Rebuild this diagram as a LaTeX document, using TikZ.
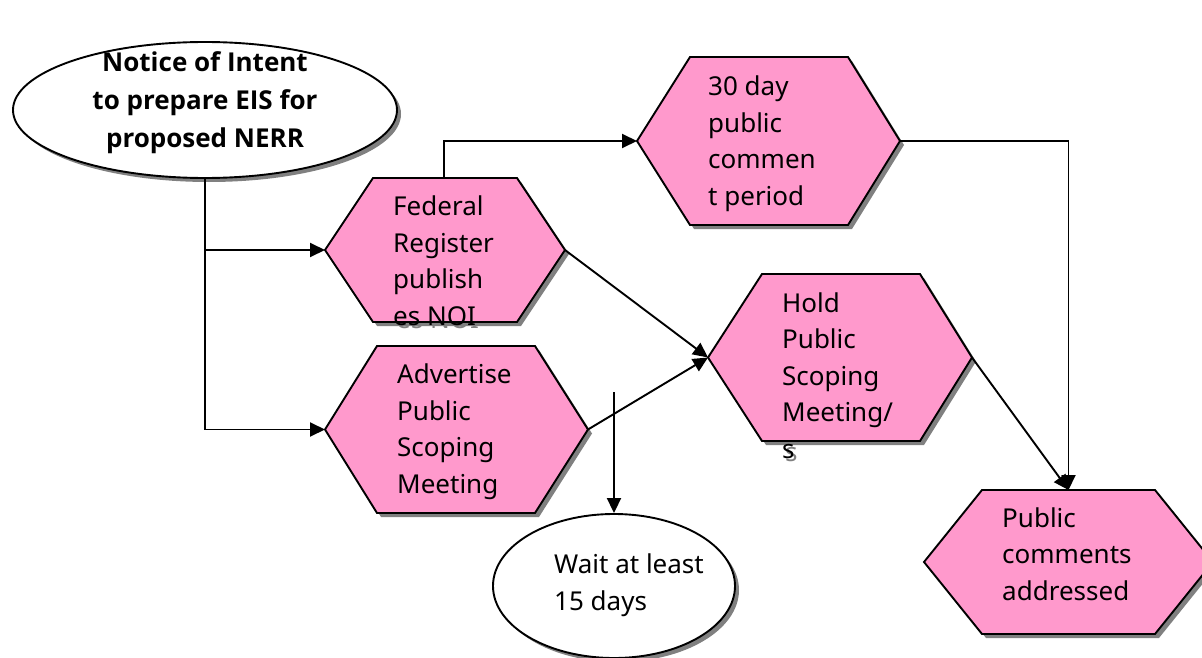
\documentclass[tikz,border=0pt]{standalone}
\usepackage{fontspec}
\setmainfont{Noto Sans}
\newfontfamily\noibf{Open Sans}
\usetikzlibrary{arrows.meta,shapes.geometric}
\definecolor{hexpink}{RGB}{255,153,204}
\definecolor{shadowgray}{RGB}{128,128,128}
\tikzset{
  txt/.style={font=\fontsize{26}{36.5}\selectfont, align=left, inner sep=0pt},
  conn/.style={line width=1.9pt, draw=black},
  arr/.style={conn, -{Triangle[length=15pt,width=14pt]}},
  hexfill/.style={fill=hexpink, draw=black, line width=1.9pt, line join=miter},
  shad/.style={fill=shadowgray},
  oval/.style={ellipse, draw=black, fill=white, line width=1.9pt, inner sep=0pt},
}
% #1 name, #2 x west, #3 x top-left, #4 x top-right, #5 x east, #6 y top, #7 y bottom, #8 text
% (#1-t) = west end of the baseline of the LAST text line
\newcommand{\hexbox}[8]{%
  \coordinate (#1-w) at (#2,{(#6+#7)/2});
  \coordinate (#1-e) at (#5,{(#6+#7)/2});
  \coordinate (#1-n) at ({(#3+#4)/2},#6);
  \begin{scope}[shift={(4,4)}]
    \fill[shad] (#2,{(#6+#7)/2}) -- (#3,#6) -- (#4,#6) -- (#5,{(#6+#7)/2}) -- (#4,#7) -- (#3,#7) -- cycle;
  \end{scope}
  \node[txt, text=shadowgray, anchor=base west] (#1-shadowtext) at ([shift={(3,3)}]#1-t) {#8};
  \path[hexfill] (#2,{(#6+#7)/2}) -- (#3,#6) -- (#4,#6) -- (#5,{(#6+#7)/2}) -- (#4,#7) -- (#3,#7) -- cycle;
  \node[txt, anchor=base west] (#1) at (#1-t) {#8};
}
\begin{document}
\begin{tikzpicture}[x=1pt,y=-1pt]
\useasboundingbox (0,0) rectangle (1202,658);
\fill[white] (0,0) rectangle (1202,658);

% Notice of Intent ellipse
\node[oval, fill=shadowgray, draw=none, minimum width=384pt, minimum height=136pt] (noi-shadow) at (209,114) {};
\node[oval, minimum width=384pt, minimum height=136pt] (noi) at (205,110) {};
\node[txt, align=center, font=\noibf\bfseries\fontsize{26}{37.5}\selectfont, anchor=base] (noi-text) at (205,147)
  {Notice of Intent\\to prepare EIS for\\proposed NERR};

% Wait ellipse
\node[oval, fill=shadowgray, draw=none, minimum width=242pt, minimum height=144pt] (wait-shadow) at (618,590) {};
\node[oval, minimum width=242pt, minimum height=144pt] (wait) at (614,586) {};
\node[txt, anchor=base west] (wait-text) at (554,610) {Wait at least\\15 days};

% Hexagons
\coordinate (fr-t) at (393,325);
\hexbox{fr}{325}{373}{517}{565}{178}{322}{Federal\\Register\\publish\\es NOI}
\coordinate (cp-t) at (708,205);
\hexbox{cp}{637}{690}{848}{900}{57}{225}{30 day\\public\\commen\\t period}
\coordinate (hold-t) at (782,458);
\hexbox{hold}{708}{762}{920}{972}{274}{441}{Hold\\Public\\Scoping\\Meeting/\\s}
\coordinate (adv-t) at (397,493);
\hexbox{adv}{325}{377}{535}{588}{346}{513}{Advertise\\Public\\Scoping\\Meeting}
\coordinate (pc-t) at (1002,600);
\hexbox{pc}{924}{982}{1155}{1213}{490}{634}{Public\\comments\\addressed}

% Connectors
\coordinate (fr-top) at (444,178);
\coordinate (wait-from) at (614,392);
\draw[arr] (noi.south) |- (adv-w);
\draw[arr] (noi.south |- fr-w) -- (fr-w);
\draw[arr] (fr-top) |- (cp-w);
\draw[arr] (cp-e) -| (pc-n);
\draw[arr] (fr-e) -- (hold-w);
\draw[arr] (adv-e) -- (hold-w);
\draw[arr] (hold-e) -- (pc-n);
\draw[arr] (wait-from) -- (wait.north);
\end{tikzpicture}
\end{document}
